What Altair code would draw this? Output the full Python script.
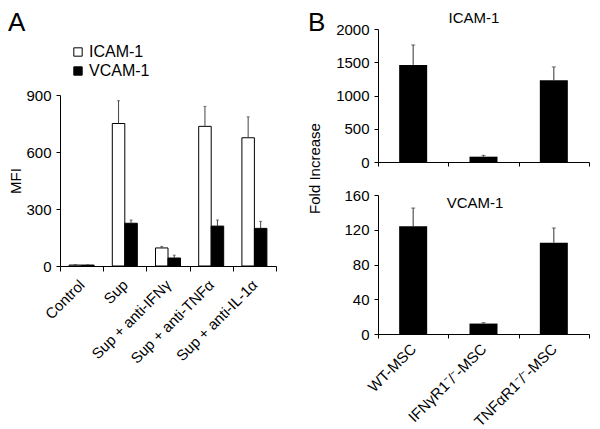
import altair as alt
import pandas as pd

FONT = "Liberation Sans"

# ---- Panel A data ----
a_cats = ["Control", "Sup", "Sup + anti-IFNγ", "Sup + anti-TNFα", "Sup + anti-IL-1α"]
a_markers = ["ICAM-1", "VCAM-1"]
a_icam = [5, 750, 95, 735, 675]
a_icam_err = [3, 120, 8, 105, 110]
a_vcam = [5, 225, 42, 210, 198]
a_vcam_err = [2, 17, 15, 32, 37]
a_ticks = [0, 300, 600, 900]

# ---- Panel B data ----
b_cats = ["WT-MSC", "IFNγR1⁻/⁻-MSC", "TNFαR1⁻/⁻-MSC"]
b_icam = [1460, 80, 1230]
b_icam_err = [300, 20, 200]
b_icam_ticks = [0, 500, 1000, 1500, 2000]
b_vcam = [124, 12, 105]
b_vcam_err = [21, 1, 17]
b_vcam_ticks = [0, 40, 80, 120, 160]

dfA = pd.DataFrame({
    "cond": a_cats * 2,
    "marker": [a_markers[0]] * len(a_cats) + [a_markers[1]] * len(a_cats),
    "value": a_icam + a_vcam,
    "err": a_icam_err + a_vcam_err,
})
dfA["top"] = dfA["value"] + dfA["err"]

AW, AH = 216, 171
A_OFFSET = 66  # vertical offset of panel A plot below panel B (top) plot
xA_axis = alt.Axis(title=None, labelAngle=-45, labelAlign="right", labelBaseline="middle",
                   tickBand="extent", tickSize=5, labelPadding=11, labelFontSize=15)
xA = alt.X("cond:N", sort=a_cats, scale=alt.Scale(paddingInner=0, paddingOuter=0), axis=xA_axis)
xoff = alt.XOffset("marker:N", sort=a_markers, scale=alt.Scale(paddingInner=0, paddingOuter=0.728))
yA_axis = alt.Axis(values=a_ticks, format="d", title="MFI", grid=False, tickSize=4, labelPadding=5,
                   titleAngle=-90, titleX=-45, titleY=AH / 2, titleAlign="center",
                   titleBaseline="middle", labelFontSize=15, titleFontSize=15)
yA_scale = alt.Scale(domain=[0, 900], nice=False)

barsA = alt.Chart(dfA).mark_bar(stroke="black", strokeWidth=1).encode(
    x=xA, xOffset=xoff,
    y=alt.Y("value:Q", scale=yA_scale, axis=yA_axis),
    fill=alt.Fill("marker:N", sort=a_markers,
                  scale=alt.Scale(domain=a_markers, range=["white", "black"]),
                  legend=alt.Legend(title=None, orient="none", legendX=10,
                                    legendY=A_OFFSET - 51,
                                    symbolType="square", symbolSize=70,
                                    symbolStrokeColor="black", symbolStrokeWidth=1,
                                    labelFontSize=16, labelOffset=3, rowPadding=3,
                                    padding=0)),
)
errA = alt.Chart(dfA).mark_rule(color="#444", strokeWidth=1).encode(
    x=xA, xOffset=xoff,
    y=alt.Y("value:Q", scale=yA_scale, axis=yA_axis), y2="top:Q",
)
capA = alt.Chart(dfA).mark_tick(color="#444", size=3, thickness=1).encode(
    x=xA, xOffset=xoff,
    y=alt.Y("top:Q", scale=yA_scale, axis=yA_axis),
)
letterA = alt.Chart(pd.DataFrame({"t": ["A"]})).mark_text(
    align="left", baseline="top", fontSize=26, font=FONT, color="black"
).encode(text="t:N", x=alt.value(-52), y=alt.value(-85))

panelA = alt.layer(barsA, errA, capA, letterA).properties(width=AW, height=AH)

spacer = alt.Chart(pd.DataFrame({"v": [0]})).mark_point(opacity=0).encode(
    x=alt.value(0), y=alt.value(0)
).properties(width=AW, height=A_OFFSET - 10)

colA = alt.vconcat(spacer, panelA, spacing=10, bounds="flush")

# ---- Panel B ----
BW = 211


def panel_b(vals, errs, ticks, height, show_labels, title, title_x, title_y,
            y_title=None, letter=None):
    df = pd.DataFrame({"cond": b_cats, "value": vals, "err": errs})
    df["top"] = df["value"] + df["err"]
    if show_labels:
        xax = alt.Axis(title=None, labelAngle=-45, labelAlign="right", labelBaseline="middle",
                       tickBand="extent", tickSize=4, labelPadding=8, labelFontSize=15)
    else:
        xax = alt.Axis(title=None, labels=False, tickBand="extent", tickSize=4)
    x = alt.X("cond:N", sort=b_cats, scale=alt.Scale(paddingInner=0, paddingOuter=0), axis=xax)
    yax_kwargs = dict(values=ticks, format="d", grid=False, tickSize=4, labelPadding=5,
                      labelFontSize=15)
    if y_title:
        yax_kwargs.update(title=y_title, titleAngle=-90, titleX=-64, titleY=-27,
                          titleAlign="center", titleBaseline="middle", titleFontSize=15)
    else:
        yax_kwargs.update(title=None)
    yax = alt.Axis(**yax_kwargs)
    ysc = alt.Scale(domain=[ticks[0], ticks[-1]], nice=False)
    bars = alt.Chart(df).mark_bar(color="black", size=28).encode(
        x=x, y=alt.Y("value:Q", scale=ysc, axis=yax))
    err = alt.Chart(df).mark_rule(color="#333", strokeWidth=1).encode(
        x=x, y=alt.Y("value:Q", scale=ysc, axis=yax), y2="top:Q")
    cap = alt.Chart(df).mark_tick(color="#333", size=4, thickness=1).encode(
        x=x, y=alt.Y("top:Q", scale=ysc, axis=yax))
    ttl = alt.Chart(pd.DataFrame({"t": [title]})).mark_text(
        align="center", baseline="middle", fontSize=15, font=FONT, color="black"
    ).encode(text="t:N", x=alt.value(title_x), y=alt.value(title_y))
    layers = [bars, err, cap, ttl]
    if letter:
        lt = alt.Chart(pd.DataFrame({"t": [letter]})).mark_text(
            align="left", baseline="top", fontSize=26, font=FONT, color="black"
        ).encode(text="t:N", x=alt.value(-70), y=alt.value(-19))
        layers.append(lt)
    return alt.layer(*layers).properties(width=BW, height=height)


b1 = panel_b(b_icam, b_icam_err, b_icam_ticks, 133, False, "ICAM-1", 96, -11, letter="B")
b2 = panel_b(b_vcam, b_vcam_err, b_vcam_ticks, 139, True, "VCAM-1", 97, 8,
             y_title="Fold Increase")
colB = alt.vconcat(b1, b2, spacing=33, bounds="flush")

chart = alt.hconcat(colA, colB, spacing=30).properties(
    padding={"left": 0, "top": 2, "right": 2, "bottom": 2}
).configure_view(stroke=None).configure_axis(
    labelFont=FONT, titleFont=FONT, labelColor="black", titleColor="black",
    domainColor="black", tickColor="black", titleFontWeight="normal",
).configure_legend(labelFont=FONT, labelColor="black").configure_text(font=FONT)

chart.save("out.html", embed_options={"renderer": "svg", "actions": False})
